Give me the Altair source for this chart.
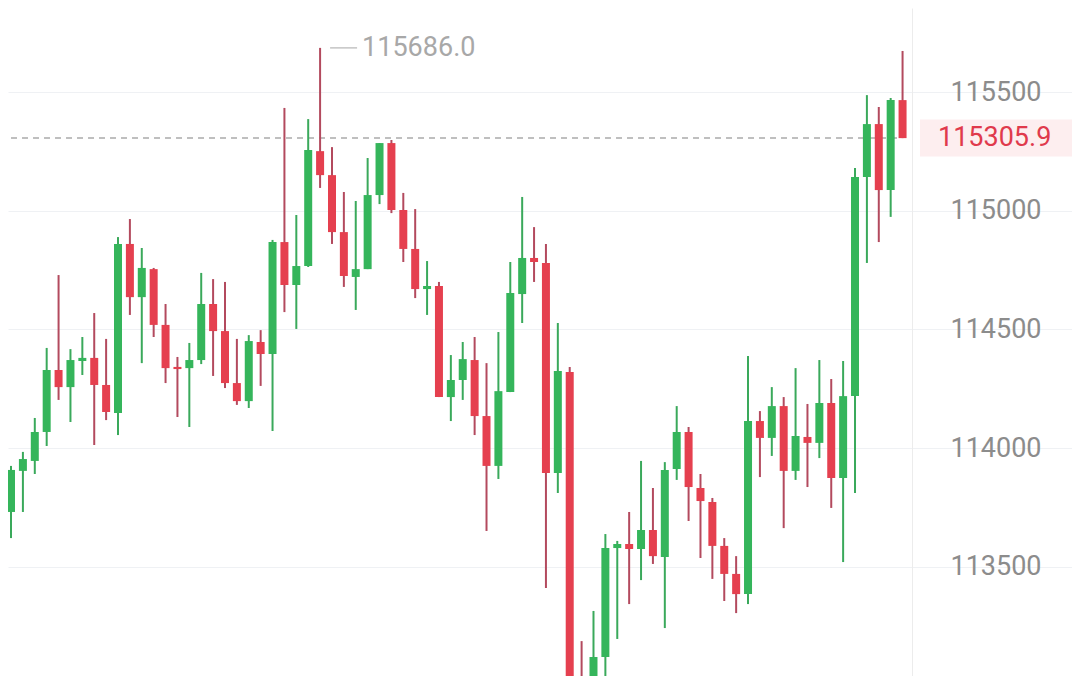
import altair as alt
import pandas as pd

# ---- data (BTC-like candlesticks) ----
idx = list(range(76))
opens = [113731, 113904, 113946, 114068, 114329, 114257, 114367, 114380, 114266, 114148,
         114860, 114636, 114754, 114519, 114342, 114337, 114371, 114607, 114493, 114274,
         114198, 114447, 114396, 114868, 114687, 114767, 115251, 115150, 114910, 114721,
         114754, 115066, 115285, 115003, 114839, 114670, 114683, 114215, 114287, 114371,
         114135, 113925, 114236, 114649, 114801, 114780, 113895, 114321, 112880, 112800,
         113120, 113579, 113596, 113575, 113655, 113541, 113912, 114068, 113832, 113773,
         113588, 113470, 113385, 114114, 114043, 114177, 113904, 114047, 114022, 114190,
         113874, 114219, 115142, 115365, 115087, 115466]
highs = [113925, 113984, 114127, 114422, 114729, 114417, 114468, 114569, 114460, 114889,
         114965, 114843, 114759, 114607, 114384, 114443, 114738, 114712, 114700, 114460,
         114476, 114497, 114877, 115433, 114982, 115386, 115686, 115268, 115079, 115041,
         115222, 115285, 115298, 115075, 115007, 114788, 114700, 114392, 114447, 114468,
         114358, 114489, 114784, 115058, 114931, 114860, 114527, 114342, 113187, 113314,
         113638, 113609, 113731, 113946, 113832, 113941, 114177, 114089, 113891, 113790,
         113621, 113545, 114388, 114156, 114257, 114215, 114337, 114186, 114371, 114291,
         114367, 115180, 115487, 115437, 115475, 115673]
lows = [113621, 113731, 113891, 114009, 114203, 114110, 114308, 114013, 114118, 114055,
        114561, 114358, 114468, 114274, 114131, 114089, 114354, 114304, 114253, 114182,
        114169, 114262, 114072, 114573, 114502, 114763, 115096, 114860, 114679, 114582,
        114754, 115028, 114990, 114784, 114632, 114561, 114215, 114114, 114203, 114055,
        113651, 113870, 114236, 114527, 114700, 113411, 113811, 112850, 112750, 112780,
        113036, 113196, 113343, 113444, 113512, 113242, 113866, 113693, 113537, 113449,
        113356, 113305, 113343, 113878, 113967, 113663, 113866, 113836, 113958, 113748,
        113520, 113811, 114780, 114868, 114974, 115305.9]
closes = [113908, 113954, 114068, 114329, 114257, 114371, 114380, 114266, 114152, 114860,
          114636, 114759, 114519, 114337, 114333, 114371, 114607, 114493, 114274, 114198,
          114451, 114396, 114868, 114687, 114767, 115256, 115150, 114910, 114725, 114754,
          115066, 115285, 115003, 114839, 114670, 114683, 114215, 114287, 114375, 114135,
          113925, 114240, 114653, 114801, 114784, 113895, 114325, 112880, 112800, 113120,
          113579, 113596, 113575, 113655, 113545, 113908, 114068, 113836, 113777, 113588,
          113470, 113385, 114114, 114043, 114177, 113904, 114051, 114022, 114190, 113874,
          114219, 115142, 115365, 115087, 115466, 115305.9]

axis_values = [113500, 114000, 114500, 115000, 115500]
last_price = 115305.9
last_label = "115305.9"
max_index = 26
max_price = 115686.0
max_label = "115686.0"

# ---- tables ----
df = pd.DataFrame({"k": idx, "open": opens, "high": highs, "low": lows, "close": closes})

price_df = pd.DataFrame({"kstart": [0], "kend": [idx[-1]], "price": [last_price], "label": [last_label]})
max_df = pd.DataFrame({"k": [max_index], "k2": [max_index], "v": [max_price], "label": [max_label]})

W, H = 1064, 668
FONT = "Roboto"
GREEN, RED = "#35B55B", "#E5404F"
GREEN_WICK, RED_WICK = "#3AA95B", "#B34A5E"

xscale = alt.Scale(domain=[1 / 6, 88.8333], nice=False, zero=False)
yscale = alt.Scale(domain=[113040, 115854], nice=False, zero=False)
yaxis = alt.Axis(
    orient="right", offset=-160, values=axis_values, format="d", title=None,
    ticks=False, tickSize=0, labelPadding=38, labelAlign="left", labelBaseline="middle",
    labelFontSize=27, labelFont=FONT, labelColor="#8c8c8c",
    domain=True, domainColor="#ececec", domainWidth=1,
    grid=True, gridColor="#eff1f4", gridWidth=1,
)

is_up = alt.datum.close >= alt.datum.open


def X(f):
    return alt.X(f, type="quantitative", scale=xscale, axis=None)


def Y(f):
    return alt.Y(f, type="quantitative", scale=yscale, axis=yaxis)


band = alt.Chart(price_df).mark_rule(strokeWidth=37, color="#fdeeef").encode(
    x=alt.value(912), x2=alt.value(W), y=Y("price")
)

dashed = alt.Chart(price_df).mark_rule(
    strokeDash=[6, 5], strokeWidth=1.5, color="#ababab", clip=True, x2Offset=-4
).encode(x=X("kstart"), x2=alt.X2("kend"), y=Y("price"))

wicks = alt.Chart(df).mark_rule(strokeWidth=2, clip=True).encode(
    x=X("k"), y=Y("low"), y2=alt.Y2("high"),
    color=alt.condition(is_up, alt.value(GREEN_WICK), alt.value(RED_WICK)),
)

bodies = alt.Chart(df).mark_bar(size=8, clip=True).encode(
    x=X("k"), y=Y("open"), y2=alt.Y2("close"),
    color=alt.condition(is_up, alt.value(GREEN), alt.value(RED)),
)

price_text = alt.Chart(price_df).mark_text(
    align="left", baseline="middle", fontSize=27, font=FONT, color="#E03A4C"
).encode(x=alt.value(930), y=Y("price"), text="label:N")

max_line = alt.Chart(max_df).mark_rule(
    strokeWidth=1.5, color="#c4c4c4", xOffset=10, x2Offset=37
).encode(x=X("k"), x2=alt.X2("k2"), y=Y("v"))

max_text = alt.Chart(max_df).mark_text(
    align="left", baseline="middle", fontSize=27, font=FONT, color="#a8a8a8", dx=42
).encode(x=X("k"), y=Y("v"), text="label:N")

chart = alt.layer(band, dashed, wicks, bodies, price_text, max_line, max_text).properties(
    width=W, height=H, padding=0, autosize=alt.AutoSizeParams(type="none"), background="white"
).configure_view(stroke=None)

chart.save("out.html", embed_options={"renderer": "svg", "actions": False})
